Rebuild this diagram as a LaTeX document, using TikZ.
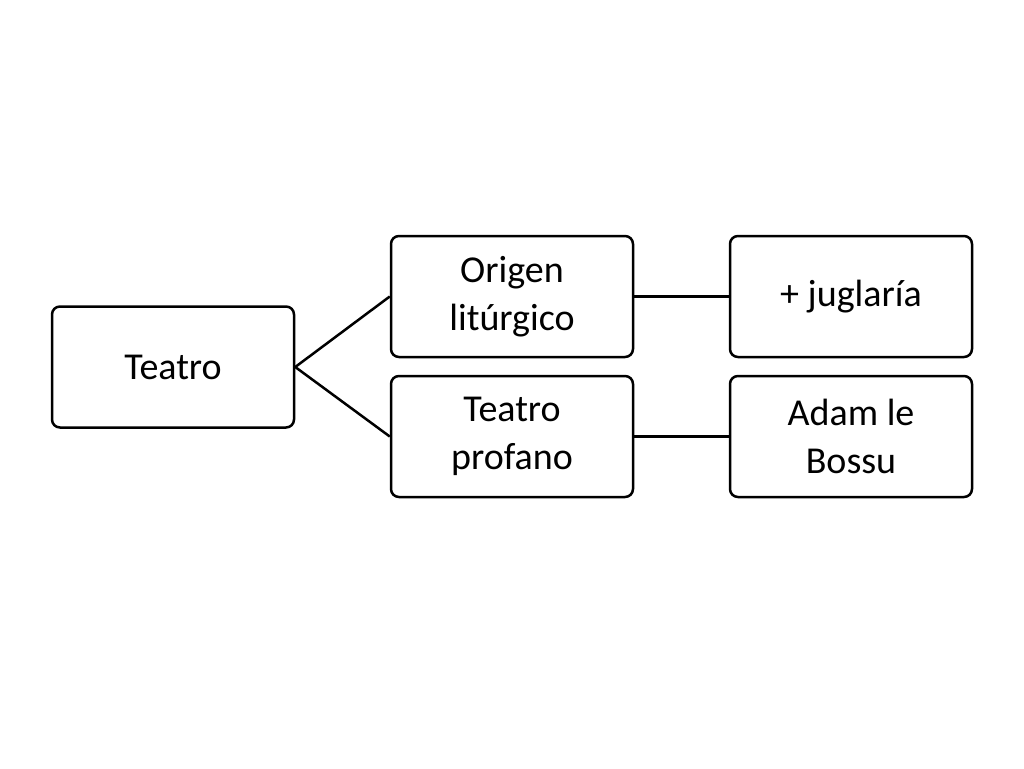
\documentclass[tikz,border=0pt]{standalone}
\usepackage{fontspec}
\setmainfont{Carlito}
\begin{document}
\begin{tikzpicture}[x=1pt,y=-1pt,
  box/.style={draw=black,line width=2.5pt,rounded corners=8pt,minimum width=242pt,minimum height=121pt,align=center,font=\fontsize{38}{48}\selectfont,inner sep=0pt},
  conn/.style={line width=2.5pt}]
\useasboundingbox (0,0) rectangle (1024,768);
\node[box] (t) at (173,367) {Teatro};
\node[box] (o) at (512,296.5) {Origen\\litúrgico};
\node[box] (j) at (851,296.5) {+ juglaría};
\node[box] (p) at (512,436.5) {Teatro\\profano};
\node[box] (a) at (851,436.5) {Adam le\\Bossu};
\draw[conn] (t.east) -- (o.west);
\draw[conn] (t.east) -- (p.west);
\draw[conn] (o.east) -- (j.west);
\draw[conn] (p.east) -- (a.west);
\end{tikzpicture}
\end{document}
